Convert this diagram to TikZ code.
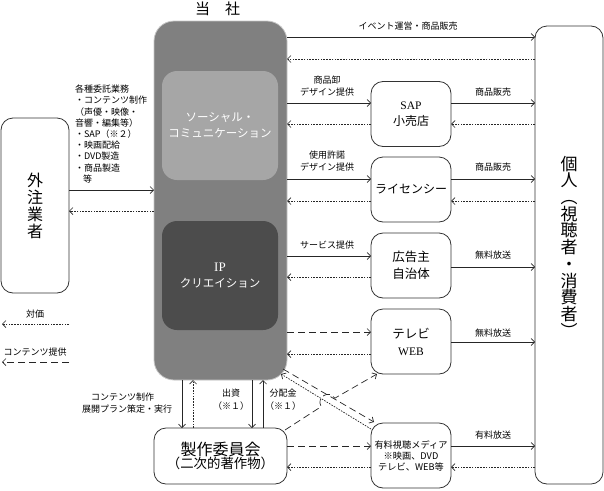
\documentclass[tikz,border=0pt]{standalone}
\usepackage{fontspec}
\setmainfont{Noto Sans CJK JP}
\newfontfamily\latf{Liberation Serif}
\usetikzlibrary{arrows.meta}
\begin{document}
\begin{tikzpicture}[x=1pt,y=-1pt,
  every node/.style={inner sep=0pt,outer sep=0pt},
  box/.style={draw=black!80,line width=0.8pt,rounded corners=12pt,fill=white,
    minimum width=80pt,minimum height=65pt,align=center},
  lbl/.style={font=\fontsize{9}{12}\selectfont,align=center,text=black},
  arr/.style={line width=0.7pt,draw=black!85,-{Straight Barb[length=3.5pt,width=7pt]}},
  sol/.style={arr},
  dot/.style={arr,dash pattern=on 1.6pt off 1.2pt},
  dsh/.style={arr,dash pattern=on 7pt off 4pt},
]
\useasboundingbox (0,0) rectangle (604,490);

% main company
\node[draw=gray!45,fill=gray,line width=0.8pt,rounded corners=20pt,
  minimum width=133pt,minimum height=359pt] (company) at (220.5,200.5) {};
\node[font=\fontsize{15}{15}\selectfont] (title) at (217.5,9) {当\hspace{15pt}社};
\node[fill=black!35,rounded corners=15pt,minimum width=116pt,minimum height=109pt,
  align=center,text=white,font=\fontsize{11.5}{16}\selectfont] (social) at (220,125.5)
  {ソーシャル・\\コミュニケーション};
\node[fill=black!70,rounded corners=15pt,minimum width=116pt,minimum height=109pt,
  align=center,text=white,font=\fontsize{11.5}{16}\selectfont] (ip) at (220,275.5)
  {{\latf\fontsize{13}{16}\selectfont IP}\\クリエイション};

% outer boxes
\node[box,minimum width=68pt,minimum height=175pt,font=\fontsize{16}{17}\selectfont] (vendor) at (35,205.5) {外\\注\\業\\者};
\node[box,minimum width=68pt,minimum height=458pt] (person) at (569,255) {};
\node[align=center,font=\fontsize{17}{16.7}\selectfont] (persontext) at (569,246.5)
  {個\\人\\︵\\視\\聴\\者\\・\\消\\費\\者\\︶};

\node[box,font=\fontsize{12}{16}\selectfont] (sap) at (411,114) {{\latf\fontsize{11.5}{16}\selectfont SAP}\\小売店};
\node[box,font=\fontsize{12}{16}\selectfont] (lic) at (411,189.5) {ライセンシー};
\node[box,font=\fontsize{12.5}{17}\selectfont] (ad) at (411,265.5) {広告主\\自治体};
\node[box,font=\fontsize{12.5}{17}\selectfont] (tv) at (411,341.5) {テレビ\\{\latf\fontsize{11.5}{17}\selectfont WEB}};
\node[box,font=\fontsize{9.2}{11}\selectfont] (pay) at (411,455.5) {有料視聴メディア\\※映画、DVD\\テレビ、WEB等};
\node[box,minimum width=133pt,minimum height=56pt] (committee) at (220.5,456)
  {{\fontsize{16}{19}\selectfont 製作委員会}\\{\fontsize{13.4}{19}\selectfont （二次的著作物）}};

% horizontal connectors
\draw[sol] (company.east |- 0,37) -- (person.west |- 0,37);
\draw[dot] (person.west |- 0,59) -- (company.east |- 0,59);
\draw[sol] (company.east |- 0,103) -- (sap.west |- 0,103);
\draw[sol] (sap.east |- 0,103) -- (person.west |- 0,103);
\draw[dot] (sap.west |- 0,124) -- (company.east |- 0,124);
\draw[dot] (person.west |- 0,124) -- (sap.east |- 0,124);
\draw[sol] (company.east |- 0,179) -- (lic.west |- 0,179);
\draw[sol] (lic.east |- 0,179) -- (person.west |- 0,179);
\draw[dot] (lic.west |- 0,201) -- (company.east |- 0,201);
\draw[dot] (person.west |- 0,201) -- (lic.east |- 0,201);
\draw[sol] (company.east |- 0,256) -- (ad.west |- 0,256);
\draw[sol] (ad.east |- 0,267) -- (person.west |- 0,267);
\draw[dot] (ad.west |- 0,277) -- (company.east |- 0,277);
\draw[dsh] (company.east |- 0,332) -- (tv.west |- 0,332);
\draw[sol] (tv.east |- 0,342) -- (person.west |- 0,342);
\draw[dot] (tv.west |- 0,354) -- (company.east |- 0,354);
\draw[dsh] (committee.east |- 0,446) -- (pay.west |- 0,446);
\draw[sol] (pay.east |- 0,446) -- (person.west |- 0,446);
\draw[dot] (pay.west |- 0,467) -- (committee.east |- 0,467);
\draw[dot] (person.west |- 0,467) -- (pay.east |- 0,467);
\draw[sol] (vendor.east |- 0,190) -- (company.west |- 0,190);
\draw[dot] (company.west |- 0,211) -- (vendor.east |- 0,211);

% vertical connectors
\draw[sol] (company.south -| 182,0) -- (committee.north -| 182,0);
\draw[dot] (committee.north -| 193,0) -- (company.south -| 193,0);
\draw[sol] (company.south -| 252,0) -- (committee.north -| 252,0);
\draw[sol] (committee.north -| 263,0) -- (company.south -| 263,0);

% diagonals
\coordinate (hop1) at (321.2,406.6);
\coordinate (hop2) at (334.8,398.2);
\draw[dsh] ([xshift=-2pt,yshift=-2pt]committee.north east) -- (hop1)
  .. controls (315.6,397.5) and (329.2,389.1) .. (hop2) -- ([xshift=6pt]tv.south west);
\draw[dsh] ([xshift=-4pt,yshift=11pt]company.south east) -- ([xshift=3pt,yshift=1pt]pay.north west);
\draw[dot] ([yshift=-6pt]pay.north west) -- ([xshift=-6pt,yshift=6pt]company.south east);

% labels
\node[lbl] (l1) at (408,26) {イベント運営・商品販売};
\node[lbl] (l2) at (327,86) {商品卸\\デザイン提供};
\node[lbl] (l3) at (493,92) {商品販売};
\node[lbl] (l4) at (327,161.5) {使用許諾\\デザイン提供};
\node[lbl] (l5) at (493,167) {商品販売};
\node[lbl] (l6) at (327,245) {サービス提供};
\node[lbl] (l7) at (493,255) {無料放送};
\node[lbl] (l8) at (493,333) {無料放送};
\node[lbl] (l9) at (493,435) {有料放送};
\node[lbl,font=\fontsize{9}{11.2}\selectfont,align=left,anchor=west] (l10) at (75,134)
  {各種委託業務\\・コンテンツ制作\\（声優・映像・\\音響・編集等）\\・SAP（※２）\\・映画配給\\・DVD製造\\・商品製造\\\hspace*{8pt}等};
\node[lbl,align=left,anchor=west] (l11) at (82,403) {\hspace*{9pt}コンテンツ制作\\展開プラン策定・実行};
\node[lbl,font=\fontsize{9}{13}\selectfont] (l12) at (231,399.5) {出資\\（※１）};
\node[lbl,font=\fontsize{9}{13}\selectfont] (l13) at (283,399.5) {分配金\\（※１）};

% legend
\node[lbl] (leg1) at (35,314) {対価};
\coordinate (leg1s) at (69,324);
\coordinate (leg1e) at (2,324);
\draw[dot] (leg1s) -- (leg1e);
\node[lbl] (leg2) at (35,352) {コンテンツ提供};
\coordinate (leg2s) at (69,362);
\coordinate (leg2e) at (2,362);
\draw[dsh] (leg2s) -- (leg2e);
\end{tikzpicture}
\end{document}
